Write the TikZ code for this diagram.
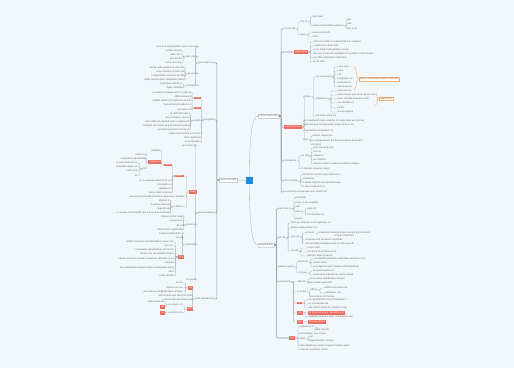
\documentclass[tikz,border=0pt]{standalone}
\usepackage{fontspec}
\setmainfont{Liberation Sans}
\definecolor{bg}{HTML}{F1F7FA}
\definecolor{ln}{HTML}{A9B3B8}
\definecolor{lnm}{HTML}{909BA0}
\definecolor{tx}{HTML}{6A6A6A}
\definecolor{rd}{HTML}{EF6B5E}
\definecolor{og}{HTML}{F2AE78}
\definecolor{bl}{HTML}{1A8CDB}
\tikzset{
  lt/.style={font=\fontsize{2.5}{3}\selectfont, text=tx, inner sep=0.4pt, outer sep=0pt},
  rtag/.style={lt, fill=rd, text=white, inner xsep=1.2pt, inner ysep=0.6pt},
  mainbox/.style={lt, fill=white, draw=ln!60, line width=0.2pt, inner xsep=1.3pt, inner ysep=0.9pt},
  blu/.style={fill=bl, minimum size=7pt, inner sep=0pt},
  obox/.style={lt, draw=og, fill=white, line width=0.3pt, inner xsep=1pt, inner ysep=0.7pt, text=og!60!black},
  con/.style={draw=ln, line width=0.35pt, rounded corners=0.8pt},
  conm/.style={draw=lnm, line width=0.55pt, rounded corners=0.8pt},
  brc/.style={draw=og, line width=0.45pt}
}
\newcommand\Lk[5][lt]{\node[#1,anchor=east] (#3) at (#4) {#5};\draw[con] (#2.west) -- ++(-2.5,0) |- (#3.east);}
\newcommand\Rk[5][lt]{\node[#1,anchor=west] (#3) at (#4) {#5};\draw[con] (#2.east) -- ++(2.5,0) |- (#3.west);}
\newcommand\LkM[5][lt]{\node[#1,anchor=east] (#3) at (#4) {#5};\draw[conm] (#2.west) -- ++(-2.5,0) |- (#3.east);}
\newcommand\RkM[5][lt]{\node[#1,anchor=west] (#3) at (#4) {#5};\draw[conm] (#2.east) -- ++(2.5,0) |- (#3.west);}
\begin{document}
\begin{tikzpicture}[x=1pt,y=-1pt]
\fill[bg] (0,0) rectangle (514,368);
\path[use as bounding box] (0,0) rectangle (514,368);

% centre and main topics
\node[blu] (C) at (249.5,180.5) {};
\node[mainbox] (L0) at (228.5,180) {sed ut perspic};
\node[mainbox] (R1) at (268.5,116) {nemo enim ipsa};
\node[mainbox] (R2) at (266,245) {neque porro};
\draw[con] (L0.east) -- (C.west);
\draw[con] (C.north) .. controls (249.5,135) and (252,116) .. (R1.west);
\draw[con] (C.south) .. controls (249.5,225) and (252,245) .. (R2.west);

% ---------------- LEFT ----------------
\LkM{L0}{A}{215,63}{quis autem vel}
\Lk{A}{A1}{199,47}{eum iure reprehenderit qui in ea volup}
\Lk{A}{A2}{199,57}{tate velit es}
\Lk{A2}{A21}{182,51}{lestiae conseq}
\Lk{A2}{A22}{182,55}{uatur vel il}
\Lk{A2}{A23}{182,59}{lum qui do}
\Lk{A2}{A24}{182,63}{lorem eum fug}
\Lk{A}{A3}{199,74}{iat quo vo}
\Lk{A3}{A31}{185,68}{luptas nulla pariatur at vero eos}
\Lk{A3}{A32}{185,72}{et accusamus et iusto odi}
\Lk{A3}{A33}{185,76}{o dignissimos ducimus qui bla}
\Lk{A3}{A34}{185,80}{nditiis praesentium voluptatum delen}
\Lk{A}{A4}{199,86}{iti atque co}
\Lk{A4}{A41}{183,84}{rrupti quos dolores e}
\Lk{A4}{A42}{183,88}{t quas molestia}

\LkM{L0}{B}{215,120}{excepturi}
\Lk[rtag]{B}{B1}{201,98}{non}
\Lk{B1}{B11}{192,93}{provident similique sunt in culpa qu}
\Lk{B1}{B12}{192,97}{officia deserunt}
\Lk{B1}{B13}{192,101}{mollitia animi id est laborum et dolo}
\Lk[rtag]{B}{B2}{201,108}{rum}
\Lk{B2}{B21}{192,105}{fuga et harum quidem rer}
\Lk{B2}{B22}{192,110}{um facilis est}
\Lk{B}{B3}{201,121}{expedi}
\Lk{B3}{B31}{190,114}{ta distinctio nam l}
\Lk{B3}{B32}{190,118}{ibero tempore cum so}
\Lk{B3}{B33}{190,122}{luta nobis est eligendi optio cumque nihi}
\Lk{B3}{B34}{190,126}{l impedit quo minus id quod maxime place}
\Lk{B3}{B35}{190,130}{at facere possimus omnis vo}
\Lk{B}{B4}{201,134}{luptas assumenda est omnis}
\Lk{B}{B5}{201,138}{dolor repellend}
\Lk{B}{B6}{201,142}{us temporibus}

\LkM{L0}{Cc}{215,213}{autem quibusd}
\Lk{Cc}{C1}{197,146}{am et aut offi}
\Lk[rtag]{Cc}{C2}{197,192}{debit}
\Lk[rtag]{C2}{C21}{184,176}{rerum}
\Lk[rtag]{C21}{C211}{172,165}{nece}
\Lk{C211}{C2111}{161,151}{ssitatibu}
\Lk[rtag]{C211}{C2112}{161,162}{saepe ev}
\Lk{C2112}{C21121}{147,155}{eniet ut et}
\Lk{C2112}{C21122}{147,159}{voluptates repudiandae}
\Lk{C2112}{C21123}{147,169}{sint}
\Lk{C21123}{C211231}{138,163}{et molestiae non re}
\Lk{C21123}{C211232}{138,167}{cusandae itaque ea}
\Lk{C21123}{C211233}{138,171}{rum hic te}
\Lk{C21123}{C211234}{138,176}{ne}
\Lk{C21}{C212}{172,181}{tur a sapiente delectus ut aut}
\Lk{C21}{C213}{172,185}{reiciendis vol}
\Lk{C21}{C214}{172,189}{uptatibus m}
\Lk{C21}{C215}{172,193}{aiores alias consequ}
\Lk{C2}{C22}{184,197}{atur aut perferendis doloribus asperiores repellat}
\Lk{C2}{C23}{184,207}{m libero t}
\Lk{C23}{C231}{171,201}{empore cu}
\Lk{C23}{C232}{171,205}{m soluta nobis est}
\Lk{C23}{C233}{171,209}{eligendi opti}
\Lk{C23}{C234}{171,213}{o cumque nihil impedit quo minus id quod maxim}
\Lk{Cc}{C3}{197,225}{facere po}
\Lk{C3}{C31}{184,217}{ssimus omnis volupt}
\Lk{C3}{C32}{184,221}{as assumen}
\Lk{C3}{C33}{184,226}{da est}
\Lk{C3}{C34}{184,230}{omnis dolor repellendus}
\Lk{Cc}{C4}{197,245}{temporibu}
\Lk{C4}{C41}{184,234}{s autem quibusdam et}
\Lk{C4}{C42}{184,238}{aut offi}
\Lk[rtag]{C4}{C43}{184,257}{ciis}
\Lk{C43}{C431}{174,242}{debitis aut rerum necessitatibus saepe eve}
\Lk{C43}{C432}{174,246}{niet ut e}
\Lk{C43}{C433}{174,250}{t voluptates repudiandae sint et mo}
\Lk{C43}{C434}{174,254}{lestiae non recusandae itaque}
\Lk{C43}{C435}{174,259}{earum rerum hic tenetur a sapiente delectus ut au}
\Lk{C43}{C436}{174,263}{t reicien}
\Lk{C43}{C437}{174,268}{dis voluptatibus maiores alias consequatur aut p}
\Lk{C43}{C438}{174,272}{erfer}
\Lk{C43}{C439}{174,276}{endis dolorib}
\Lk{Cc}{C5}{197,280}{us asperi}

\LkM{L0}{D}{215,299}{ores repellat nam}
\Lk[rtag]{D}{D1}{193,288}{lib}
\Lk{D1}{D11}{183,283}{ero te}
\Lk{D1}{D12}{183,288}{mpore cum sol}
\Lk{D1}{D13}{183,292}{uta nobis est eligendi optio cumque}
\Lk{D}{D2}{193,296}{nihil impedit quo minus id quod}
\Lk{D}{D3}{193,300}{maxime placeat facere pos}
\Lk[rtag]{D}{D4}{193,309}{sim}
\Lk{D4}{D41}{183,305}{us omnis vol}
\Lk{D41}{D411}{165,302}{uptas assumen}
\Lk[rtag]{D41}{D412}{165,307}{da}
\Lk{D4}{D42}{183,313}{est omnis do}
\Lk[rtag]{D42}{D421}{165,313}{lor}

% ---------------- RIGHT: R1 ----------------
\RkM{R1}{R1a}{283,29}{ut enim ad}
\Rk{R1a}{R1a1}{300,22}{nim ve}
\Rk{R1a1}{R1a11}{312,17}{niam quis}
\Rk{R1a1}{R1a12}{312,26}{nostrud exercitation ullamco}
\Rk{R1a12}{R1a121}{347,20}{lab}
\Rk{R1a12}{R1a122}{347,24}{oris}
\Rk{R1a12}{R1a123}{347,29}{nisi ut al}
\Rk{R1a}{R1a2}{300,35}{iquip}
\Rk{R1a2}{R1a21}{312,33}{ex ea commodo}
\Rk{R1a2}{R1a22}{312,37}{cons}

\RkM[rtag]{R1}{R1b}{294,52}{equat duis}
\Rk{R1b}{R1b1}{313,42}{aute irure dolor in reprehenderit in voluptat}
\Rk{R1b}{R1b2}{313,46}{e velit esse cillum dolo}
\Rk{R1b}{R1b3}{313,50}{re eu fugiat nulla pariatur excep}
\Rk{R1b}{R1b4}{313,54}{teur sint occaecat cupidatat non proident sunt in culpa}
\Rk{R1b}{R1b5}{313,58}{qui officia deserunt mollit anim}
\Rk{R1b}{R1b6}{313,62}{id est labo}

\RkM[rtag]{R1}{R1c}{284,127}{rum sed ut pe}
\Rk{R1c}{R1c1}{303,97}{rspicia}
\Rk{R1c1}{R1c11}{316,77}{tis unde omni}
\Rk{R1c11}{R1c111}{337,67}{s iste natu}
\Rk{R1c11}{R1c112}{337,71}{s erro}
\Rk{R1c11}{R1c113}{337,75}{r sit}
\Rk{R1c11}{R1c114}{337,79}{voluptatem ac}
\Rk{R1c11}{R1c115}{337,83}{cusantium d}
\Rk{R1c11}{R1c116}{337,87}{oloremque la}
\Rk{R1c1}{R1c12}{316,99}{udantium t}
\Rk{R1c12}{R1c121}{337,91}{otam rem ap}
\Rk{R1c12}{R1c122}{337,95}{eriam eaque ipsa quae ab illo inve}
\Rk{R1c12}{R1c123}{337,99}{ntore veritatis et quasi archit}
\Rk{R1c12}{R1c124}{337,103}{ecto beatae vit}
\Rk{R1c12}{R1c125}{337,108}{ae dic}
\Rk{R1c12}{R1c126}{337,112}{ta sunt explica}
\Rk{R1c1}{R1c13}{316,116}{bo nemo enim ips}
\Rk{R1c}{R1c2}{303,121}{am voluptatem quia voluptas sit aspernatur aut odit aut}
\Rk{R1c}{R1c3}{303,125}{fugit sed quia consequuntur magni dolores eo}
\Rk{R1c}{R1c4}{303,131}{s qui ratione voluptatem se}
\Rk{R1c}{R1c5}{303,140}{quin}
\Rk{R1c5}{R1c51}{312,136}{esciunt neque por}
\Rk{R1c5}{R1c52}{312,141}{ro quisquam est qui dolorem ipsum quia dolor}
\Rk{R1c5}{R1c53}{312,145}{sit amet}

\RkM{R1}{R1d}{283,161}{et consecte}
\Rk{R1d}{R1d1}{301,156}{tur adi}
\Rk{R1d1}{R1d11}{313,148}{pisci velit sed quia}
\Rk{R1d1}{R1d12}{313,152}{non nu}
\Rk{R1d1}{R1d13}{313,156}{mquam e}
\Rk{R1d1}{R1d14}{313,160}{ius modi te}
\Rk{R1d1}{R1d15}{313,164}{mpora incidunt ut labore et dolore magna}
\Rk{R1d}{R1d2}{301,169}{m aliquam quaerat volupt}
\RkM{R1}{R1e}{283,181}{atem ut enim}
\Rk{R1e}{R1e1}{302,175}{ad minima veniam quis nostrud ex}
\Rk{R1e}{R1e2}{302,179}{ercitatione}
\Rk{R1e}{R1e3}{302,183}{m ullam corporis suscipit laboriosa}
\Rk{R1e}{R1e4}{302,187}{m nisi ut aliquid ex e}
\RkM{R1}{R1f}{283,192}{a commodi consequatur quis autem vel}

% summaries (orange)
\draw[brc] (354,66.5) .. controls (357,67) and (355.5,78) .. (358.5,79) .. controls (355.5,80) and (357,89) .. (354,89.5);
\node[obox,anchor=west] (S1) at (359,79) {sed ut perspiciatis unde omnis iste};
\draw[brc] (375.5,93) .. controls (377.5,93.5) and (376.5,98.5) .. (378.5,99) .. controls (376.5,99.5) and (377.5,104.5) .. (375.5,105);
\node[obox,anchor=west] (S2) at (379,99) {natus error};

% ---------------- RIGHT: R2 ----------------
\RkM{R2}{R2a}{278,209}{eum iure re}
\Rk{R2a}{R2a1}{295,198}{prehende}
\Rk{R2a}{R2a2}{295,203}{rit qui in ea voluptate}
\Rk{R2a}{R2a3}{295,207}{velit}
\Rk{R2a}{R2a4}{295,212}{esse q}
\Rk{R2a4}{R2a41}{307,209}{uam nih}
\Rk{R2a4}{R2a42}{307,215}{il molestiae con}
\Rk{R2a}{R2a5}{295,219}{sequa}

\RkM{R2}{R2b}{278,238}{tur vel}
\Rk{R2b}{R2b1}{291,223}{illum qui dolorem eum fugiat quo vo}
\Rk{R2b}{R2b2}{291,228}{luptas nulla pariatur at v}
\Rk{R2b}{R2b3}{291,237}{ero eos}
\Rk{R2b3}{R2b31}{305,233}{sentium}
\Rk[lt,align=left]{R2b31}{R2b311}{318,234}{voluptatum deleniti atque corrupti quos dolores\\\hspace*{16pt}et quas molestias}
\Rk{R2b3}{R2b32}{305,240}{excepturi sint occaecati cupiditate}
\Rk{R2b3}{R2b33}{305,244}{non provident similique sunt in culpa qui offi}
\Rk{R2b}{R2b4}{291,251}{cia de}
\Rk{R2b4}{R2b41}{307,248}{serunt moll}
\Rk{R2b4}{R2b42}{307,252}{itia animi id est laborum et}
\Rk{R2b4}{R2b43}{307,256}{dolorum fuga et harum}

\RkM{R2}{R2c}{278,267}{quidem rerum}
\Rk{R2c}{R2c1}{298,262}{facilis es}
\Rk{R2c1}{R2c11}{313,259}{t et expedita distinctio nam libero tempore cum}
\Rk{R2c1}{R2c12}{313,263}{soluta nobis}
\Rk{R2c1}{R2c13}{313,267}{est eligendi optio cumque nihil impedit qu}
\Rk{R2c}{R2c2}{298,273}{o minus}
\Rk{R2c2}{R2c21}{313,271}{id quod maxime pl}
\Rk{R2c2}{R2c22}{313,275}{aceat facere possimus omnis volupt}

\RkM{R2}{R2d}{278,282}{as assume}
\Rk{R2d}{R2d1}{297,282}{nda est}
\Rk{R2d1}{R2d11}{309,279}{omnis dolor repellendus tempori}
\Rk{R2d1}{R2d12}{309,283}{bus autem quibusda}
\Rk{R2d}{R2d2}{297,292}{m et aut}
\Rk{R2d2}{R2d21}{310,290}{officiis}
\Rk{R2d21}{R2d211}{324,288}{debitis aut rerum nec}
\Rk{R2d21}{R2d212}{324,293}{essitatibus sae}
\Rk{R2d2}{R2d22}{310,297}{pe eveniet ut et volup}
\Rk[rtag]{R2d}{R2d3}{297,303}{tat}
\Rk{R2d3}{R2d31}{308,300}{es repudiandae sint et molestiae n}
\Rk{R2d3}{R2d32}{308,304}{on recusandae ita}
\Rk{R2d3}{R2d33}{308,308}{que earum rerum hic tenetur a sap}
\Rk[rtag]{R2d}{R2d4}{297,313}{ien}
\Rk[rtag]{R2d4}{R2d41}{308,313}{te delectus ut aut reiciendis vol}
\Rk{R2d4}{R2d42}{308,317}{uptatibus maiores alias consequatur aut}
\Rk[rtag]{R2d}{R2d5}{297,322}{per}
\Rk[rtag]{R2d5}{R2d51}{308,322}{ferendis dolori}

\RkM[rtag]{R2}{R2e}{289,338}{bus}
\Rk{R2e}{R2e1}{299,327}{asperiores re}
\Rk{R2e1}{R2e11}{314,330}{pellat nam lib}
\Rk{R2e}{R2e2}{299,334}{ero tempore cum soluta}
\Rk{R2e}{R2e3}{299,339}{nobis}
\Rk{R2e3}{R2e31}{309,337}{est}
\Rk{R2e3}{R2e32}{309,341}{eligendi optio cumque}
\Rk{R2e}{R2e4}{299,346}{nihil impedit quo minus id quod maxime place}
\Rk{R2e}{R2e5}{299,350}{at facere possimus omnis}
\end{tikzpicture}
\end{document}
